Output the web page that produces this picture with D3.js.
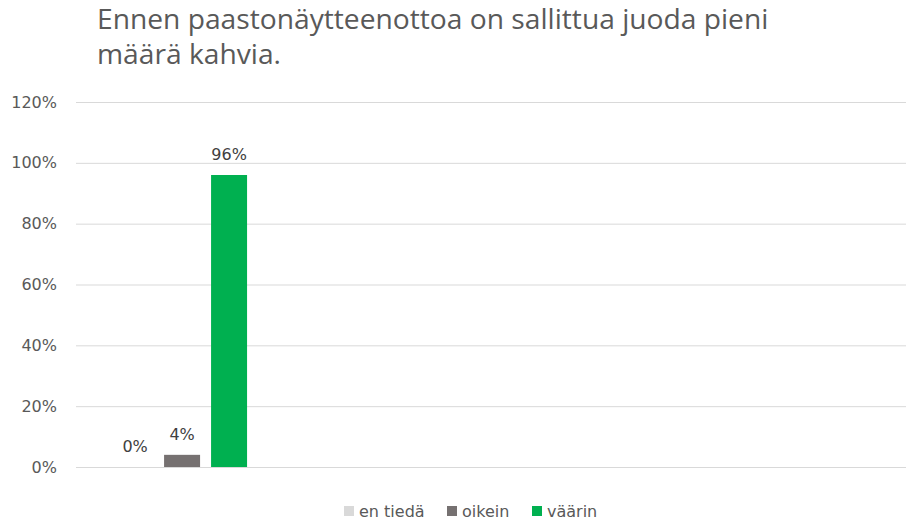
<!DOCTYPE html>
<html>
<head>
<meta charset="utf-8">
<script src="https://cdn.jsdelivr.net/npm/d3@7.9.0/dist/d3.min.js"></script>
<style>
  body { margin: 0; background: #fff; }
  text { font-family: "DejaVu Sans", sans-serif; }
</style>
</head>
<body>
<div id="chart"></div>
<script>
// Data
const titleLines = ['Ennen paastonäytteenottoa on sallittua juoda pieni', 'määrä kahvia.'];
const categories = ['c1', 'c2', 'c3', 'c4']; // only the first slot is filled
const series = ['en tiedä', 'oikein', 'väärin'];
const values = [0, 0.04, 0.96];
const yTicks = [0, 0.2, 0.4, 0.6, 0.8, 1.0, 1.2];
const colors = ['#d9d9d9', '#767171', '#00b050'];

const width = 906;
const height = 520;
const margin = { top: 102, right: 0, bottom: 53, left: 76 };

const svg = d3.select('#chart')
  .append('svg')
  .attr('width', width)
  .attr('height', height);

// Title
svg.append('g')
  .selectAll('text')
  .data(titleLines)
  .join('text')
  .attr('x', 97)
  .attr('y', (d, i) => 29 + i * 35)
  .attr('font-size', 28.2)
  .attr('fill', '#595959')
  .style('font-family', '"Open Sans", sans-serif')
  .text((d) => d);

// Scales
const x0 = d3.scaleBand()
  .domain(categories)
  .range([margin.left, width - margin.right]);

const x1 = d3.scaleBand()
  .domain(series)
  .range([0, x0.bandwidth()])
  .paddingInner(0.234)
  .paddingOuter(0.825)
  .align(0.53);

const y = d3.scaleLinear()
  .domain([0, 1.2])
  .range([height - margin.bottom, margin.top]);

// Gridlines
svg.append('g')
  .attr('class', 'gridlines')
  .attr('transform', `translate(${margin.left}, 0)`)
  .call(d3.axisLeft(y).tickValues(yTicks).tickFormat('').tickSize(-(width - margin.left - margin.right)))
  .call((g) => g.select('.domain').remove())
  .call((g) => g.selectAll('line').attr('stroke', '#d9d9d9').attr('stroke-width', 1));

// Y axis labels
svg.append('g')
  .attr('transform', `translate(${margin.left}, 0)`)
  .call(d3.axisLeft(y).tickValues(yTicks).tickFormat(d3.format('.0%')).tickSize(0).tickPadding(19))
  .call((g) => g.select('.domain').remove())
  .call((g) => g.selectAll('text')
    .attr('font-size', 16)
    .attr('fill', '#595959')
    .style('font-family', '"DejaVu Sans", sans-serif'));

// Bars
const group = svg.append('g')
  .attr('transform', `translate(${x0(categories[0])}, 0)`);

group.selectAll('rect')
  .data(values)
  .join('rect')
  .attr('x', (d, i) => x1(series[i]))
  .attr('y', (d) => y(d))
  .attr('width', x1.bandwidth())
  .attr('height', (d) => y(0) - y(d))
  .attr('fill', (d, i) => colors[i]);

group.selectAll('text.label')
  .data(values)
  .join('text')
  .attr('class', 'label')
  .attr('x', (d, i) => x1(series[i]) + x1.bandwidth() / 2)
  .attr('y', (d) => y(d) - 15)
  .attr('text-anchor', 'middle')
  .attr('font-size', 16)
  .attr('fill', '#404040')
  .text((d) => d3.format('.0%')(d));

// Legend
const legendX = [344, 447, 532];
const legend = svg.append('g')
  .selectAll('g')
  .data(series)
  .join('g')
  .attr('transform', (d, i) => `translate(${legendX[i]}, 511)`);

legend.append('rect')
  .attr('x', 0)
  .attr('y', -5)
  .attr('width', 10)
  .attr('height', 10)
  .attr('fill', (d, i) => colors[i]);

legend.append('text')
  .attr('x', 15)
  .attr('dy', '0.35em')
  .attr('font-size', 16)
  .attr('fill', '#595959')
  .text((d) => d);
</script>
</body>
</html>
